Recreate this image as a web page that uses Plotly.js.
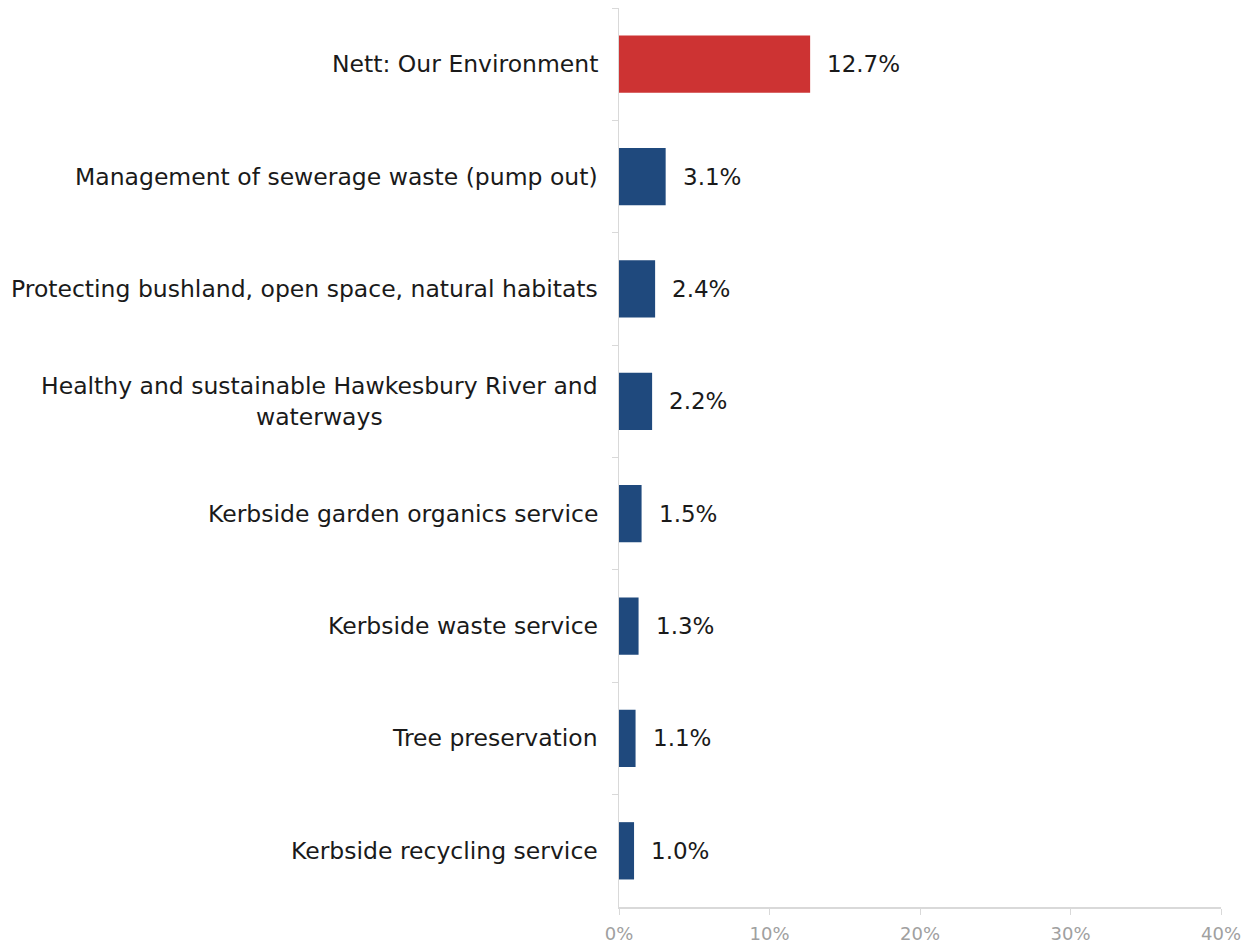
<!DOCTYPE html>
<html>
<head>
<meta charset="utf-8">
<script src="https://cdn.plot.ly/plotly-3.0.1.min.js"></script>
<style>html,body{margin:0;padding:0;background:#fff;}#chart{width:1253px;height:948px;}</style>
</head>
<body>
<div id="chart"></div>
<script>
const categories = [
  "Nett: Our Environment",
  "Management of sewerage waste (pump out)",
  "Protecting bushland, open space, natural habitats",
  "Healthy and sustainable Hawkesbury River and<br>waterways",
  "Kerbside garden organics service",
  "Kerbside waste service",
  "Tree preservation",
  "Kerbside recycling service"
];
const values = [12.7, 3.1, 2.4, 2.2, 1.5, 1.3, 1.1, 1.0];
const barColors = ["#CD3333", "#1F497D", "#1F497D", "#1F497D", "#1F497D", "#1F497D", "#1F497D", "#1F497D"];
const xTickVals = [0, 10, 20, 30, 40];
const xTickText = ["0%", "10%", "20%", "30%", "40%"];

const FONT = "'DejaVu Sans', sans-serif";

const trace = {
  type: "bar",
  orientation: "h",
  y: categories,
  x: values,
  marker: {color: barColors},
  hoverinfo: "skip"
};

const annotations = [];
values.forEach((v, i) => {
  annotations.push({
    x: v, y: categories[i], xref: "x", yref: "y",
    text: v.toFixed(1) + "%", showarrow: false,
    xanchor: "left", yanchor: "middle", xshift: 15,
    font: {family: FONT, size: 23, color: "#1a1a1a"}
  });
  annotations.push({
    x: 0, y: categories[i], xref: "paper", yref: "y",
    text: categories[i], showarrow: false, align: "center",
    xanchor: "right", yanchor: "middle", xshift: -19,
    font: {family: FONT, size: 23.5, color: "#1a1a1a"}
  });
});

const layout = {
  width: 1253, height: 948,
  margin: {l: 619, r: 32, t: 8, b: 41, pad: 0},
  paper_bgcolor: "#fff", plot_bgcolor: "#fff",
  showlegend: false,
  bargap: 0.49,
  xaxis: {
    range: [0, 40], tickvals: xTickVals, ticktext: xTickText,
    showgrid: false, zeroline: false,
    showline: true, linecolor: "#d9d9d9", linewidth: 1.5,
    ticks: "outside", ticklen: 6, tickcolor: "#d9d9d9",
    ticklabelstandoff: 4,
    tickfont: {family: FONT, size: 18, color: "#a0a0a0"},
    fixedrange: true
  },
  yaxis: {
    type: "category", autorange: "reversed",
    showticklabels: false,
    showgrid: false, zeroline: false,
    showline: true, linecolor: "#d9d9d9", linewidth: 1.5,
    ticks: "outside", ticklen: 6, tickcolor: "#d9d9d9",
    tickson: "boundaries",
    fixedrange: true
  },
  annotations: annotations
};

Plotly.newPlot("chart", [trace], layout, {displayModeBar: false, staticPlot: true});
</script>
</body>
</html>
